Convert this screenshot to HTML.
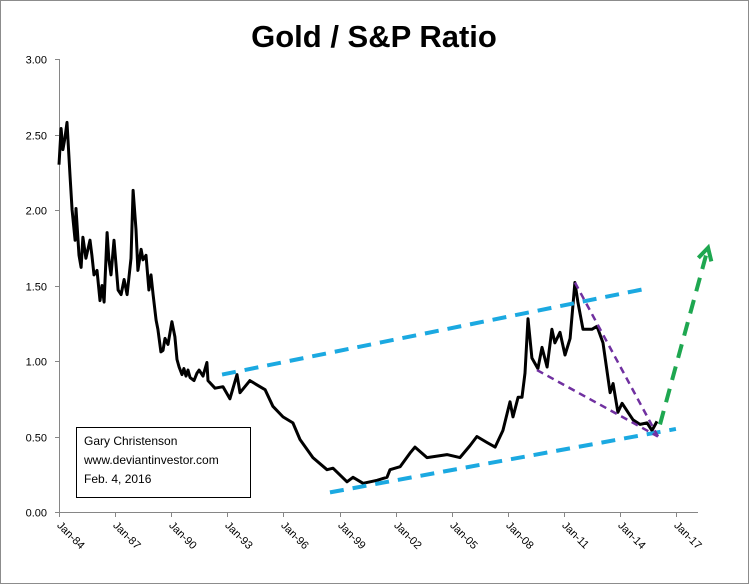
<!DOCTYPE html>
<html><head><meta charset="utf-8"><style>
html,body{margin:0;padding:0;background:#fff}
body{width:749px;height:584px;overflow:hidden;font-family:"Liberation Sans",sans-serif}
svg{display:block}
</style></head><body>
<svg id="chart" width="749" height="584" xmlns="http://www.w3.org/2000/svg">
<rect x="0.5" y="0.5" width="748" height="583" fill="#fff" stroke="#8c8c8c"/>
<text x="374" y="47" text-anchor="middle" font-size="31" font-weight="bold" font-family="Liberation Sans, sans-serif">Gold / S&amp;P Ratio</text>
<g id="axes"></g>
<g id="series"></g>
<g id="annot"></g>
<g>
<rect x="76.5" y="427.5" width="174" height="70" fill="#fff" stroke="#000"/>
<text x="84" y="445" font-size="12">Gary Christenson</text>
<text x="84" y="464" font-size="12">www.deviantinvestor.com</text>
<text x="84" y="483" font-size="12">Feb. 4, 2016</text>
</g>
</svg>
<script>
const years=[1984.00,1984.11,1984.21,1984.32,1984.43,1984.59,1984.70,1984.86,1984.91,1985.07,1985.18,1985.28,1985.44,1985.66,1985.76,1985.87,1986.03,1986.19,1986.30,1986.41,1986.57,1986.67,1986.78,1986.94,1987.05,1987.16,1987.32,1987.48,1987.64,1987.85,1987.96,1988.12,1988.22,1988.39,1988.49,1988.65,1988.81,1988.92,1989.03,1989.19,1989.29,1989.45,1989.56,1989.67,1989.83,1990.04,1990.20,1990.31,1990.42,1990.58,1990.68,1990.79,1990.90,1991.01,1991.22,1991.38,1991.49,1991.70,1991.91,1991.97,1992.34,1992.77,1993.14,1993.52,1993.68,1994.21,1994.75,1995.02,1995.44,1995.98,1996.51,1996.89,1997.58,1998.33,1998.65,1999.40,1999.72,2000.26,2001.01,2001.54,2001.70,2002.24,2002.77,2003.04,2003.68,2004.75,2005.44,2005.98,2006.35,2006.89,2007.32,2007.74,2008.12,2008.28,2008.55,2008.76,2008.92,2009.08,2009.29,2009.61,2009.83,2010.10,2010.36,2010.52,2010.79,2011.06,2011.33,2011.59,2011.75,2012.02,2012.50,2012.77,2013.09,2013.47,2013.63,2013.89,2014.11,2014.43,2014.70,2015.07,2015.45,2015.71,2015.98];
const ratios=[2.30,2.54,2.40,2.48,2.58,2.23,2.00,1.80,2.01,1.70,1.62,1.82,1.68,1.80,1.70,1.57,1.60,1.40,1.50,1.39,1.85,1.67,1.57,1.80,1.64,1.47,1.44,1.54,1.44,1.68,2.13,1.87,1.60,1.74,1.67,1.70,1.47,1.57,1.44,1.27,1.21,1.06,1.07,1.15,1.11,1.26,1.16,1.01,0.96,0.91,0.95,0.90,0.94,0.89,0.87,0.92,0.94,0.90,0.99,0.87,0.82,0.83,0.75,0.91,0.79,0.87,0.83,0.81,0.70,0.63,0.59,0.48,0.36,0.28,0.29,0.20,0.23,0.19,0.21,0.23,0.28,0.30,0.39,0.43,0.36,0.38,0.36,0.44,0.50,0.46,0.43,0.54,0.73,0.63,0.76,0.76,0.92,1.28,1.02,0.95,1.09,0.96,1.21,1.12,1.19,1.04,1.15,1.52,1.39,1.21,1.21,1.23,1.12,0.79,0.85,0.66,0.72,0.66,0.61,0.58,0.59,0.54,0.60];
const yTicks=[0,0.5,1,1.5,2,2.5,3];
const yTickLabels=["0.00","0.50","1.00","1.50","2.00","2.50","3.00"];
const xTickYears=[1984,1987,1990,1993,1996,1999,2002,2005,2008,2011,2014,2017];
const xTickLabels=["Jan-84","Jan-87","Jan-90","Jan-93","Jan-96","Jan-99","Jan-02","Jan-05","Jan-08","Jan-11","Jan-14","Jan-17"];
const upperChannel=[[1992.72,0.91],[2015.44,1.48]];
const lowerChannel=[[1998.49,0.13],[2016.99,0.55]];
const wedgeTop=[[2011.59,1.52],[2016.03,0.50]];
const wedgeBottom=[[2009.56,0.94],[2016.03,0.50]];
const breakoutArrow=[[2016.14,0.58],[2018.71,1.75]];

const NS="http://www.w3.org/2000/svg";
const X0=59,X1=698,Y0=512,Ytop=59;
function xs(yr){return 59+(yr-1984)*18.7;}
function ys(v){return Y0-(v/3)*(Y0-Ytop);}
function mk(tag,attrs,parent){const e=document.createElementNS(NS,tag);for(const k in attrs)e.setAttribute(k,attrs[k]);parent.appendChild(e);return e;}
const axes=document.getElementById('axes');
let a=mk('line',{x1:X0+0.5,y1:Ytop,x2:X0+0.5,y2:Y0,stroke:'#868686'},axes);


a=mk('line',{x1:X0,y1:Y0+0.5,x2:X1,y2:Y0+0.5,stroke:'#868686'},axes);


yTicks.forEach((v,i)=>{
  const y=Math.round(ys(v))+0.5;
  const t=mk('line',{x1:X0-4,y1:y,x2:X0,y2:y,stroke:'#868686'},axes);
  
  
  const l=mk('text',{x:X0-12,y:y+4,'text-anchor':'end','font-size':'11',fill:'#000'},axes);
  l.textContent=yTickLabels[i];
  
  
});
xTickYears.forEach((yr,i)=>{
  const x=Math.round(xs(yr))+0.5;
  const t=mk('line',{x1:x,y1:Y0,x2:x,y2:Y0+5,stroke:'#868686'},axes);
  
  
  const l=mk('text',{x:x-3,y:Y0+14,'font-size':'11',fill:'#000',transform:`rotate(45 ${x-3} ${Y0+14})`},axes);
  l.textContent=xTickLabels[i];
  
  
});
const pts=years.map((y,i)=>xs(y).toFixed(1)+','+ys(ratios[i]).toFixed(1)).join(' ');
const line=mk('polyline',{points:pts,fill:'none',stroke:'#000','stroke-width':3,'stroke-linejoin':'round'},document.getElementById('series'));


const an=document.getElementById('annot');
function seg(p,color,w,dash,name){
  const e=mk('line',{x1:xs(p[0][0]),y1:ys(p[0][1]),x2:xs(p[1][0]),y2:ys(p[1][1]),stroke:color,'stroke-width':w,'stroke-dasharray':dash},an);
  
  
  return e;
}
seg(upperChannel,'#1ba9e1',4,'14 9','upper-channel-line');
seg(lowerChannel,'#1ba9e1',4,'14 9','lower-channel-line');
seg(wedgeTop,'#7030a0',2.5,'7 5','wedge-top-line');
seg(wedgeBottom,'#7030a0',2.5,'7 5','wedge-bottom-line');
seg(breakoutArrow,'#1ea750',4,'14 9','breakout-arrow-line');
const ex=xs(breakoutArrow[1][0]),ey=ys(breakoutArrow[1][1]);
const sx=xs(breakoutArrow[0][0]),sy=ys(breakoutArrow[0][1]);
const ang=Math.atan2(ey-sy,ex-sx);
const h=14;
const p1=[ex-h*Math.cos(ang-0.5),ey-h*Math.sin(ang-0.5)],p2=[ex-h*Math.cos(ang+0.5),ey-h*Math.sin(ang+0.5)];
const head=mk('polyline',{points:`${p1} ${ex},${ey} ${p2}`,fill:'none',stroke:'#1ea750','stroke-width':4},an);


</script>
</body></html>
